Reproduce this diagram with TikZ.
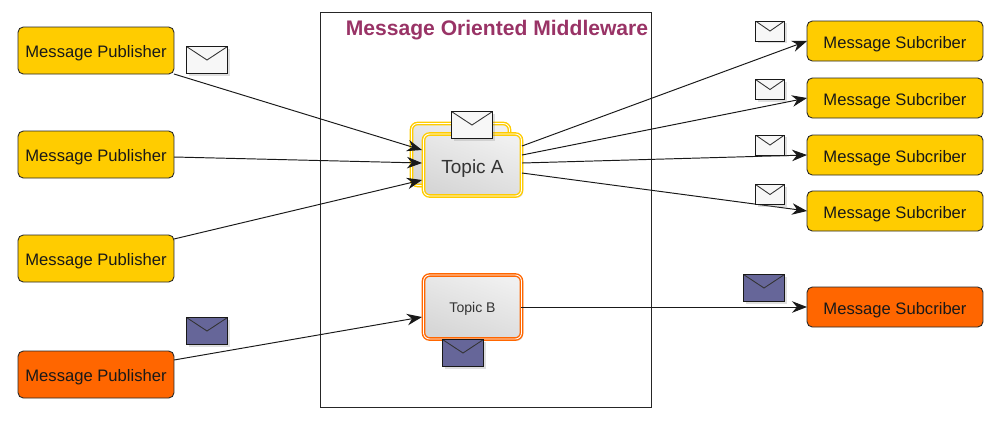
\documentclass[tikz,border=0pt]{standalone}
\usepackage{fontspec}
\setmainfont{Liberation Sans}
\usetikzlibrary{arrows.meta, shadows}

\definecolor{pubyellow}{HTML}{FFCC00}
\definecolor{puborange}{HTML}{FF6600}
\definecolor{topicline}{HTML}{FFCC00}
\definecolor{topicbline}{HTML}{FF6600}
\definecolor{mailblue}{HTML}{666699}
\definecolor{mwtitle}{HTML}{993366}

\tikzset{
 client/.style={draw=black!85, line width=0.5pt, rounded corners=3pt, inner sep=0pt, outer sep=0pt,
  minimum width=3.12cm, text height=8pt, text depth=0pt, text=black!90, font=\fontsize{9.45}{12}\selectfont},
 subscriber/.style={client, minimum width=3.52cm, minimum height=0.8cm},
 topic/.style={draw=#1, double=white, double distance=0.5pt, line width=0.8pt, rounded corners=3.5pt,
  inner sep=0pt, outer sep=0pt, minimum width=1.96cm, minimum height=1.24cm, text depth=0pt,
  shading=axis, left color=white!94!black, right color=white!84!black, shading angle=-20,
  text=black!80, drop shadow={shadow xshift=1pt, shadow yshift=-1pt, opacity=0.25}},
 mail/.style={draw=black!90, line width=0.55pt, fill=#1, inner sep=0pt, outer sep=0pt,
  drop shadow={shadow xshift=1.2pt, shadow yshift=-1.2pt, opacity=0.25},
  path picture={\draw[line width=0.5pt, draw=black!80] (path picture bounding box.north west)
   -- (path picture bounding box.center) -- (path picture bounding box.north east);}},
 bigmail/.style={mail=#1, minimum width=0.82cm, minimum height=0.54cm},
 smallmail/.style={mail=#1, minimum width=0.58cm, minimum height=0.4cm},
 flow/.style={draw=black!90, line width=0.55pt, -{Stealth[length=0.3cm, width=0.23cm]}}
}

\begin{document}
\begin{tikzpicture}[x=0.02cm, y=-0.02cm]
 \useasboundingbox (0,0) rectangle (1000,420);
 % the middleware frame
 \node[draw=black!85, line width=0.5pt, minimum width=6.62cm, minimum height=7.9cm, inner sep=0pt, outer sep=0pt] (middleware) at (485.5,209.5) {};
 \node[text=mwtitle, font=\fontsize{12}{14}\bfseries\selectfont] (mwlabel) at (497,30) {Message Oriented Middleware};

 % publishers
 \node[client, fill=pubyellow, minimum height=0.94cm] (pubA) at (96,50.5) {Message Publisher};
 \node[client, fill=pubyellow, minimum height=0.94cm] (pubB) at (96,154.5) {Message Publisher};
 \node[client, fill=pubyellow, minimum height=0.94cm] (pubC) at (96,258.5) {Message Publisher};
 \node[client, fill=puborange, minimum height=0.94cm] (pubD) at (96,374.5) {Message Publisher};

 % topics
 \node[topic=topicline] (topicAback) at (460.5,154.5) {};
 \node[topic=topicline, text height=10pt, font=\fontsize{10.8}{13}\selectfont] (topicA) at (472.5,165) {Topic A};
 \node[topic=topicbline, minimum height=1.28cm, font=\fontsize{8}{10}\selectfont] (topicB) at (472.5,307) {Topic B};

 % subscribers
 \node[subscriber, fill=pubyellow] (subA) at (895,41) {Message Subcriber};
 \node[subscriber, fill=pubyellow] (subB) at (895,98) {Message Subcriber};
 \node[subscriber, fill=pubyellow] (subC) at (895,155) {Message Subcriber};
 \node[subscriber, fill=pubyellow] (subD) at (895,211) {Message Subcriber};
 \node[subscriber, fill=puborange] (subE) at (895,307) {Message Subcriber};

 % where the arrows meet the boxes
 \coordinate (fromB) at (174,157);
 \coordinate (fromC) at (174,239);
 \coordinate (fromD) at (174,360);
 \coordinate (inA) at (422,150);
 \coordinate (inB) at (422,163);
 \coordinate (inC) at (422,180);
 \coordinate (inD) at (422,317);
 \coordinate (outA) at (522,146);
 \coordinate (outB) at (522,155);
 \coordinate (outC) at (522,163);
 \coordinate (outD) at (522,173);

 \draw[flow] (pubA.south east) -- (inA);
 \draw[flow] (fromB) -- (inB);
 \draw[flow] (fromC) -- (inC);
 \draw[flow] (fromD) -- (inD);
 \draw[flow] (outA) -- (subA.west);
 \draw[flow] (outB) -- (subB.west);
 \draw[flow] (outC) -- (subC.west);
 \draw[flow] (outD) -- (subD.west);
 \draw[flow] (topicB.east) -- (subE.west);

 % messages
 \node[bigmail=white!97!black] (mailA) at (207,60) {};
 \node[bigmail=white!97!black] (mailB) at (472,125) {};
 \node[bigmail=mailblue] (mailC) at (207,331) {};
 \node[bigmail=mailblue] (mailD) at (463,353) {};
 \node[bigmail=mailblue] (mailE) at (764,288) {};
 \node[smallmail=white!97!black] (mailF) at (770,31) {};
 \node[smallmail=white!97!black] (mailG) at (770,89.5) {};
 \node[smallmail=white!97!black] (mailH) at (770,145) {};
 \node[smallmail=white!97!black] (mailI) at (770,194.5) {};
\end{tikzpicture}
\end{document}
